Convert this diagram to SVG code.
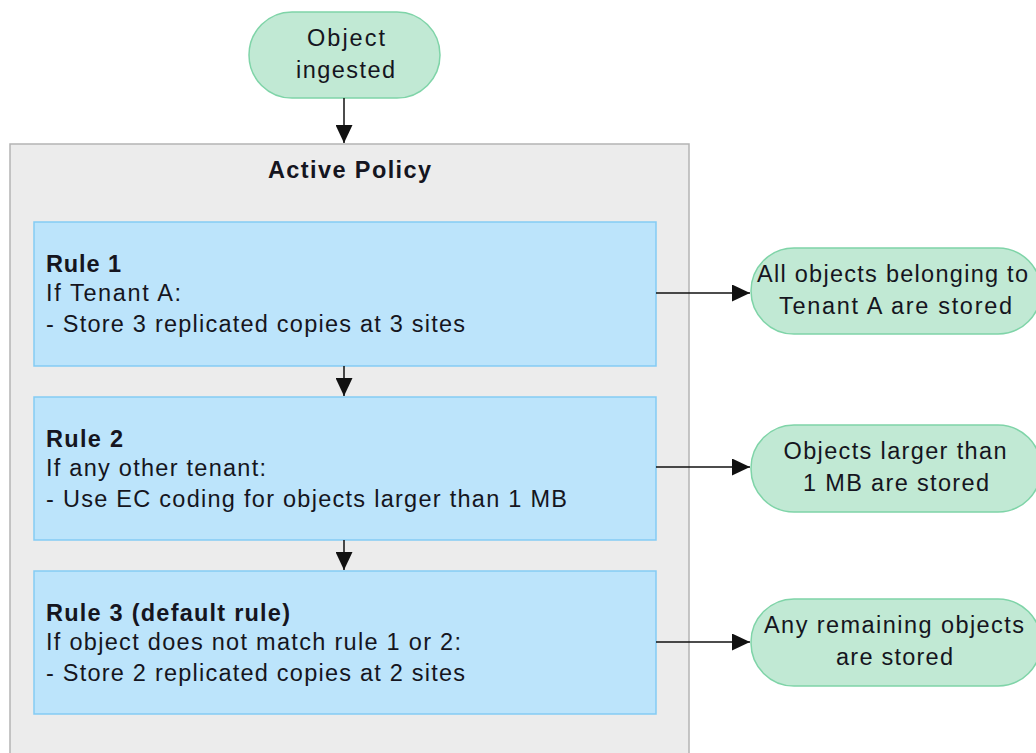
<svg xmlns="http://www.w3.org/2000/svg" width="1036" height="753" viewBox="0 0 1036 753">
<defs>
<style>
text{font-family:"Liberation Sans",Arial,sans-serif;font-size:23.5px;fill:#151520;}
.b{font-weight:bold;}
.c{text-anchor:middle;}
.term{fill:#c1e9d4;stroke:#7fd4a8;stroke-width:1.5;}
.rule{fill:#bce4fb;stroke:#84cbf4;stroke-width:1.5;}
.cont{fill:#ececec;stroke:#b4b4b4;stroke-width:1.5;}
.conn{stroke:#111;stroke-width:1.5;fill:none;marker-end:url(#ah);}
</style>
<marker id="ah" viewBox="0 0 18 17" refX="18" refY="8.5" markerWidth="18" markerHeight="17" markerUnits="userSpaceOnUse" orient="auto"><path d="M0,0 L18,8.5 L0,17 z" fill="#111"/></marker>
</defs>
<rect width="1036" height="753" fill="#fff"/>
<g id="policy">
<rect class="cont" x="10" y="144" width="679" height="620"/>
<text class="b c" x="349.5" y="178" textLength="163" lengthAdjust="spacing">Active Policy</text>
</g>
<g id="start">
<rect class="term" x="249" y="12" width="191" height="86" rx="43"/>
<text class="c" x="346" y="46" textLength="78" lengthAdjust="spacing">Object</text>
<text class="c" x="345.5" y="78" textLength="99" lengthAdjust="spacing">ingested</text>
</g>
<g id="rule1">
<rect class="rule" x="34" y="222" width="622" height="144"/>
<text class="b" x="46" y="272" textLength="75" lengthAdjust="spacing">Rule 1</text>
<text x="46" y="301" textLength="135" lengthAdjust="spacing">If Tenant A:</text>
<text x="46" y="332" textLength="419" lengthAdjust="spacing">- Store 3 replicated copies at 3 sites</text>
</g>
<g id="rule2">
<rect class="rule" x="34" y="397" width="622" height="143"/>
<text class="b" x="46" y="447" textLength="77" lengthAdjust="spacing">Rule 2</text>
<text x="46" y="476" textLength="220" lengthAdjust="spacing">If any other tenant:</text>
<text x="46" y="507" textLength="521" lengthAdjust="spacing">- Use EC coding for objects larger than 1 MB</text>
</g>
<g id="rule3">
<rect class="rule" x="34" y="571" width="622" height="143"/>
<text class="b" x="46" y="621" textLength="244" lengthAdjust="spacing">Rule 3 (default rule)</text>
<text x="46" y="650" textLength="415" lengthAdjust="spacing">If object does not match rule 1 or 2:</text>
<text x="46" y="681" textLength="419" lengthAdjust="spacing">- Store 2 replicated copies at 2 sites</text>
</g>
<g id="out1">
<rect class="term" x="751" y="248" width="290" height="86" rx="43"/>
<text class="c" x="892.5" y="282" textLength="271" lengthAdjust="spacing">All objects belonging to</text>
<text class="c" x="895.5" y="314" textLength="233" lengthAdjust="spacing">Tenant A are stored</text>
</g>
<g id="out2">
<rect class="term" x="751" y="425" width="290" height="87" rx="43"/>
<text class="c" x="895" y="459" textLength="223" lengthAdjust="spacing">Objects larger than</text>
<text class="c" x="896" y="491" textLength="186" lengthAdjust="spacing">1 MB are stored</text>
</g>
<g id="out3">
<rect class="term" x="751" y="599" width="290" height="87" rx="43"/>
<text class="c" x="894" y="633" textLength="260" lengthAdjust="spacing">Any remaining objects</text>
<text class="c" x="894.5" y="665" textLength="117" lengthAdjust="spacing">are stored</text>
</g>
<g id="connectors">
<path class="conn" d="M344,98 V143"/>
<path class="conn" d="M344,366 V396"/>
<path class="conn" d="M344,540 V570"/>
<path class="conn" d="M656,293 H750"/>
<path class="conn" d="M656,467 H750"/>
<path class="conn" d="M656,642 H750"/>
</g>
</svg>
